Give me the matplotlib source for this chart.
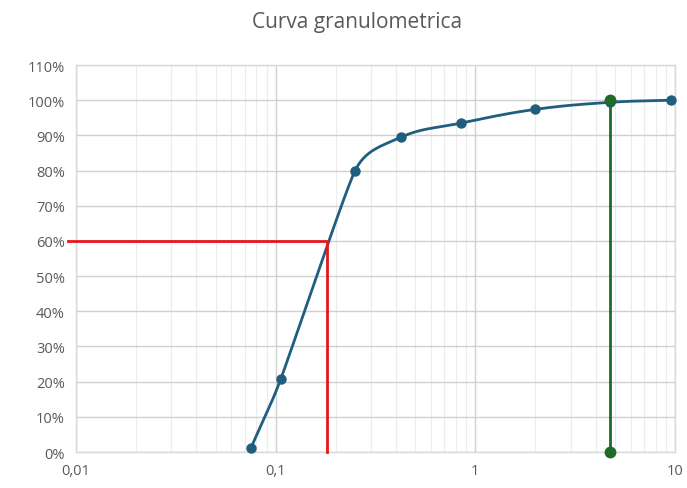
import numpy as np
import matplotlib
matplotlib.use("Agg")
import matplotlib.pyplot as plt
from matplotlib.ticker import FixedLocator, FuncFormatter, LogLocator, NullFormatter

plt.rcParams['font.family'] = ['Open Sans', 'DejaVu Sans']

# Data
sieve_mm = [0.075, 0.106, 0.25, 0.425, 0.85, 2.0, 4.75, 9.5]
passing = [1.0, 20.7, 80.0, 89.5, 93.5, 97.4, 99.4, 100.0]
d60_x = [0.0091, 0.18, 0.18]
d60_y = [60, 60, 0]
green_x = [4.75, 4.75]
green_y = [0, 100]
xtick_vals = [0.01, 0.1, 1, 10]
xtick_labels = ["0,01", "0,1", "1", "10"]
ytick_vals = list(range(0, 111, 10))

fig = plt.figure(figsize=(6.87, 4.89), dpi=100)
ax = fig.add_axes([0.1106, 0.0736, 0.8719, 0.7914])
ax.set_xscale('log')
ax.set_xlim(0.01, 10)
ax.set_ylim(0, 110)

# smooth line rendering: cubic Bezier segments in screen-like space
sx, sy = 199.0, 3.52
P = np.column_stack([np.log10(sieve_mm) * sx, np.array(passing) * sy])
n = len(P)
dirs = []
for i in range(n):
    a = P[max(i - 1, 0)]
    b = P[min(i + 1, n - 1)]
    d = b - a
    dirs.append(d / np.linalg.norm(d))
f = 0.4
seg = []
t = np.linspace(0, 1, 60)[:, None]
for i in range(n - 1):
    p1, p2 = P[i], P[i + 1]
    L = np.linalg.norm(p2 - p1)
    Lprev = np.linalg.norm(P[i] - P[i - 1]) if i > 0 else L
    Lnext = np.linalg.norm(P[i + 2] - P[i + 1]) if i + 2 < n else L
    c1 = p1 + dirs[i] * min(L, Lprev) * f
    c2 = p2 - dirs[i + 1] * min(L, Lnext) * f
    B = ((1 - t) ** 3) * p1 + 3 * ((1 - t) ** 2) * t * c1 + 3 * (1 - t) * t ** 2 * c2 + t ** 3 * p2
    seg.append(B)
curve = np.vstack(seg)

blue = '#1f5e7e'
ax.plot(10 ** (curve[:, 0] / sx), curve[:, 1] / sy, color=blue, lw=2.0, zorder=3)
ax.plot(sieve_mm, passing, 'o', color=blue, ms=6.5, zorder=4, clip_on=False)
ax.plot(d60_x, d60_y, color='#e8161b', lw=2.0, zorder=3, clip_on=False)
ax.plot(green_x, green_y, color='#1e6b2a', lw=2.0, marker='o', ms=7.5, zorder=5, clip_on=False)

# grid
ax.xaxis.set_major_locator(FixedLocator(xtick_vals))
ax.xaxis.set_major_formatter(FuncFormatter(lambda v, p: xtick_labels[xtick_vals.index(v)] if v in xtick_vals else ""))
ax.xaxis.set_minor_locator(LogLocator(base=10, subs=np.arange(2, 10)))
ax.xaxis.set_minor_formatter(NullFormatter())
ax.yaxis.set_major_locator(FixedLocator(ytick_vals))
ax.yaxis.set_major_formatter(FuncFormatter(lambda v, p: f"{int(v)}%"))
ax.grid(which='major', axis='both', color='#d0d0d0', lw=1.0)
ax.grid(which='minor', axis='x', color='#ececec', lw=0.8)
ax.set_axisbelow(True)

for s in ax.spines.values():
    s.set_color('#d9d9d9')
    s.set_linewidth(1.0)
ax.tick_params(which='both', length=0, labelsize=10.5, labelcolor='#595959')
ax.tick_params(axis='x', pad=8)
ax.tick_params(axis='y', pad=8)

fig.suptitle("Curva granulometrica", x=0.52, y=0.975, fontsize=15, color='#595959')
fig.savefig("out.png", dpi=100, facecolor='white')
